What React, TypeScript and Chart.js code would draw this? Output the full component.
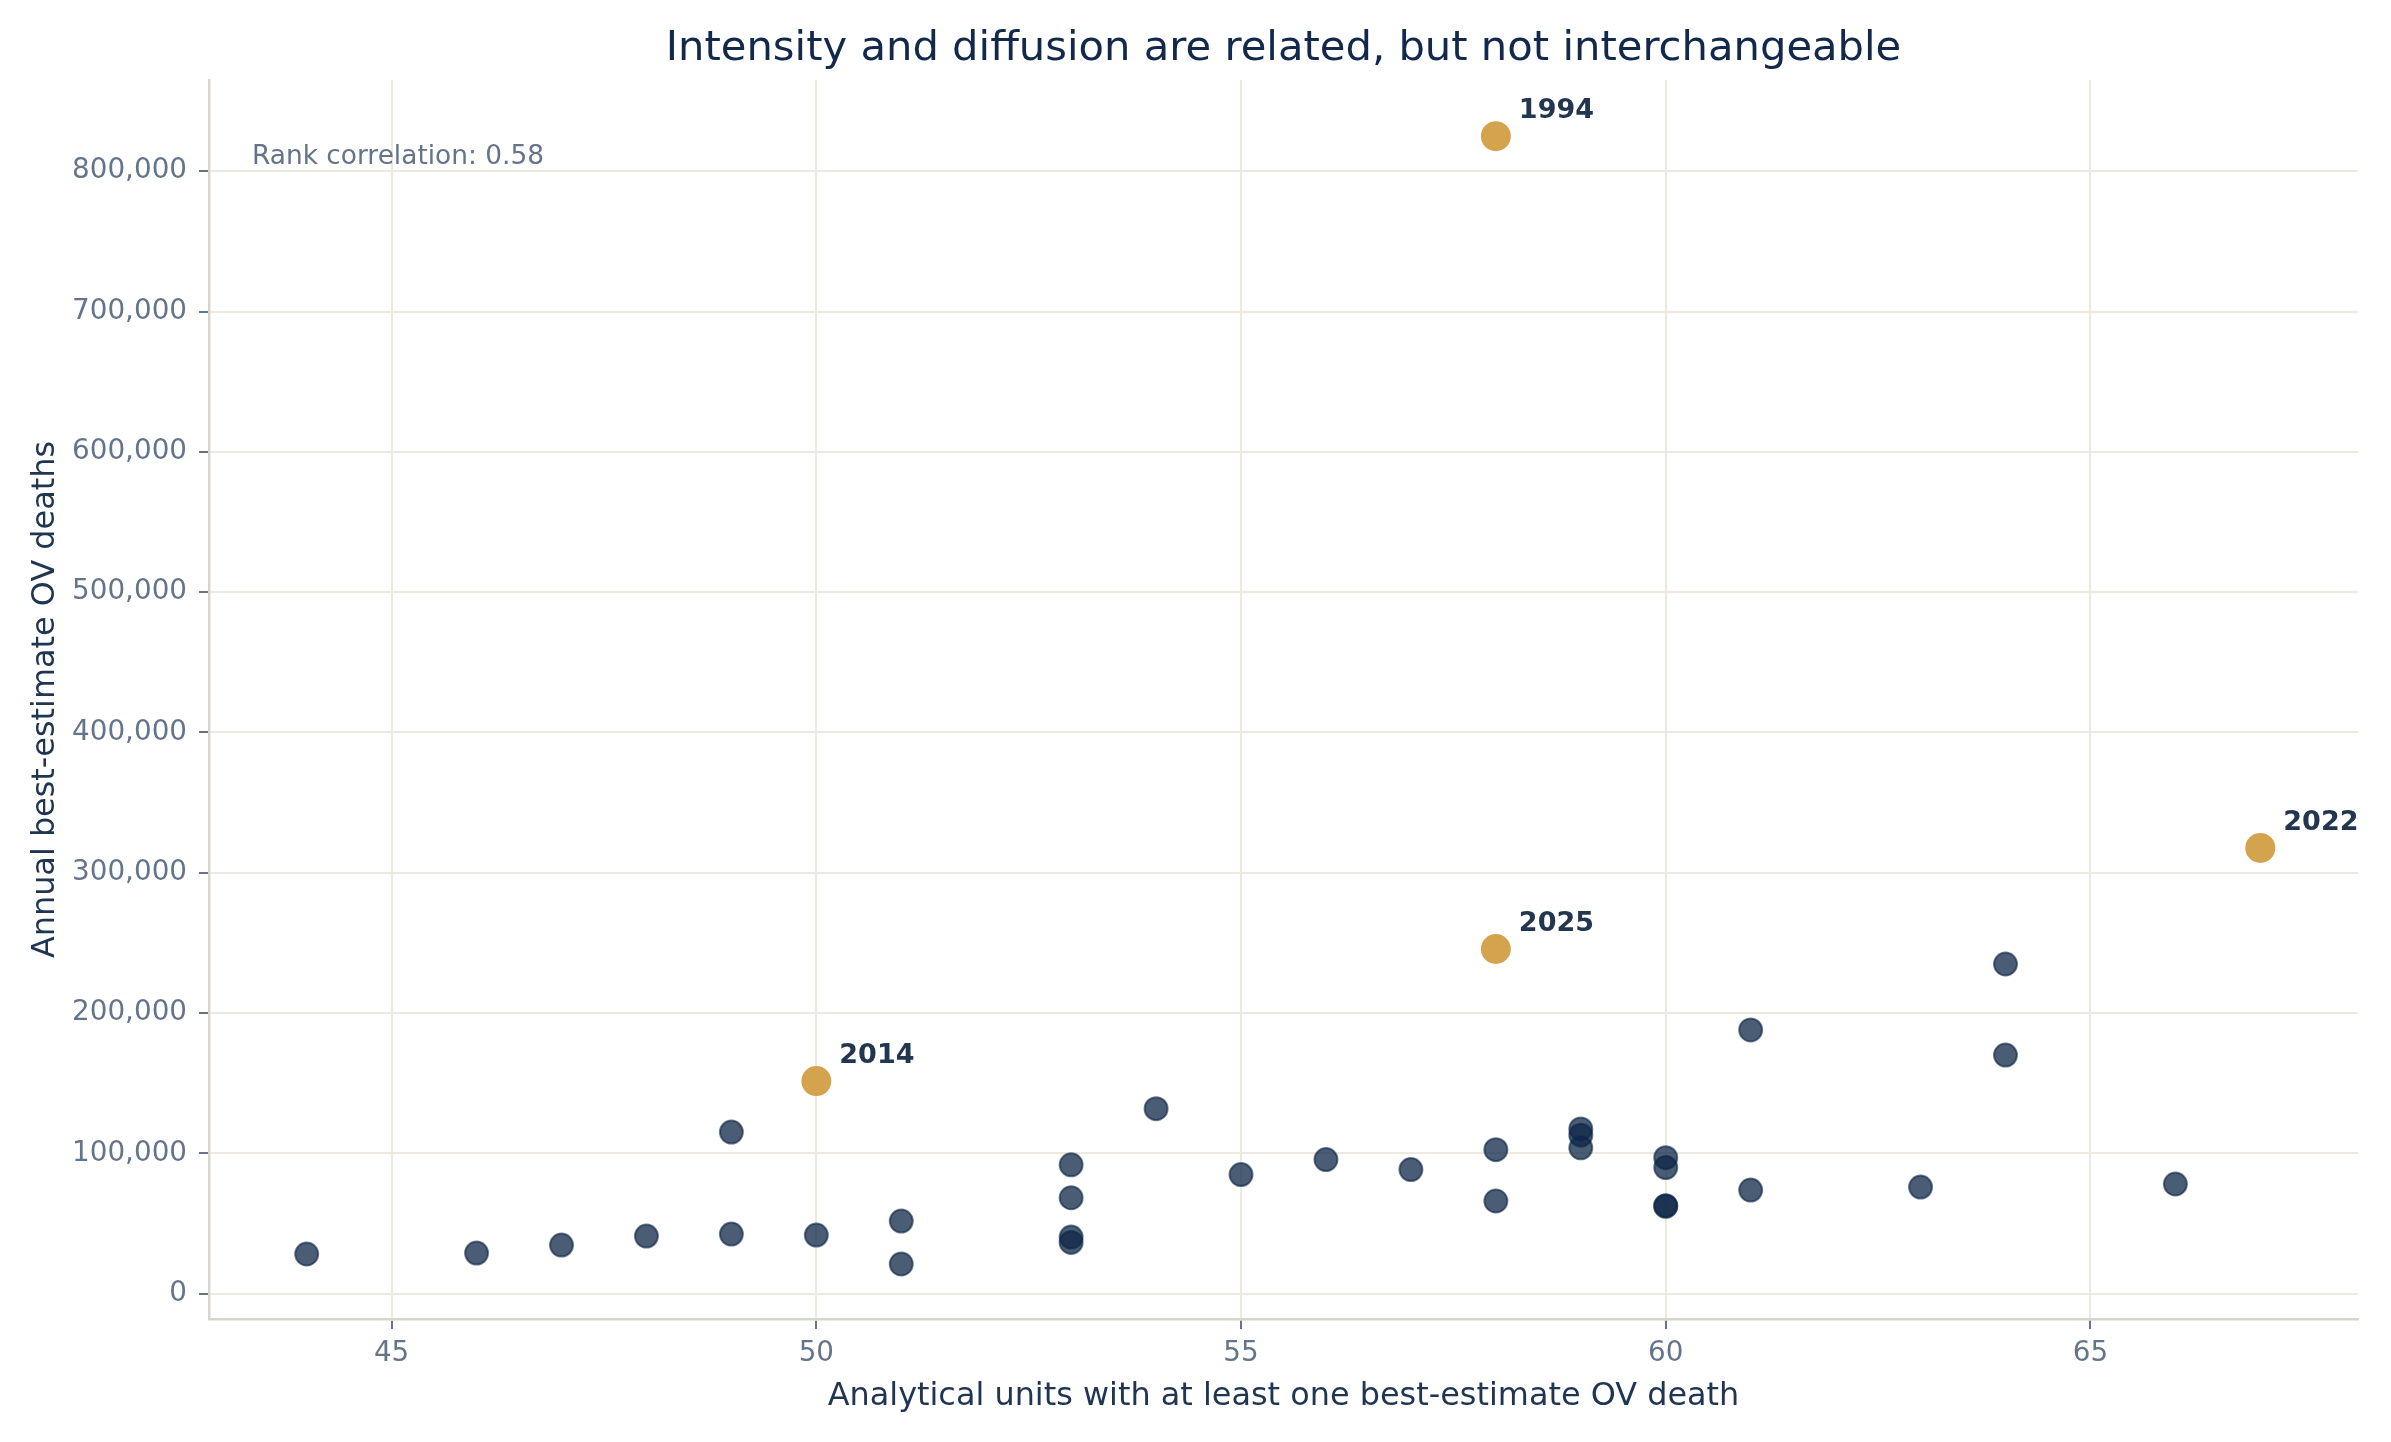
import React, { useEffect, useRef } from "react";
import { Chart, registerables } from "chart.js";

Chart.register(...registerables);

// regular years: units with at least one death vs annual deaths
const unitCounts = [44, 46, 47, 48, 49, 49, 50, 51, 51, 53, 53, 53, 53, 54, 55, 56, 57, 58, 58, 59, 59, 59, 60, 60, 60, 60, 61, 61, 63, 64, 64, 66];
const deathCounts = [28300, 29000, 34700, 41100, 42500, 115200, 41800, 51800, 21200, 91900, 68400, 40400, 36600, 131900, 84900, 95600, 88500, 102700, 66100, 117500, 113000, 104000, 97000, 89900, 62800, 62300, 188000, 73900, 76000, 235000, 170100, 78200];

// highlighted years
const highlightYears = ["1994", "2014", "2022", "2025"];
const highlightUnits = [58, 50, 67, 58];
const highlightDeaths = [825000, 151600, 317700, 245700];

const xTickValues = [45, 50, 55, 60, 65];
const yTickValues = [0, 100000, 200000, 300000, 400000, 500000, 600000, 700000, 800000];
const rankCorrelation = "Rank correlation: 0.58";

const FONT = "'DejaVu Sans', sans-serif";
const INK = "#13294b";
const LABEL = "#1f3552";
const MUTED = "#64748b";
const GRID = "#ede9df";
const SPINE = "#d9d5c9";
const NAVY = "rgba(14, 39, 71, 0.75)";
const NAVY_EDGE = "rgba(14, 39, 71, 0.6)";
const GOLD = "#d4a34e";

const annotate = {
  id: "annotate",
  afterDatasetsDraw(chart) {
    const { ctx, scales } = chart;
    ctx.save();
    ctx.font = `bold 27px ${FONT}`;
    ctx.fillStyle = "#22364f";
    ctx.textAlign = "left";
    ctx.textBaseline = "alphabetic";
    highlightYears.forEach((year, i) => {
      const px = scales.x.getPixelForValue(highlightUnits[i]);
      const py = scales.y.getPixelForValue(highlightDeaths[i]);
      ctx.fillText(year, px + 23, py - 18);
    });
    ctx.font = `26.4px ${FONT}`;
    ctx.fillStyle = MUTED;
    ctx.fillText(rankCorrelation, chart.chartArea.left + 43, 164);
    ctx.restore();
  },
};

const App = () => {
  const canvasRef = useRef<HTMLCanvasElement>(null);

  useEffect(() => {
    document.body.style.margin = "0";
    const ctx = canvasRef.current!.getContext("2d")!;

    const chart = new Chart(ctx, {
      type: "scatter",
      data: {
        datasets: [
          {
            label: "Highlighted years",
            data: highlightUnits.map((x, i) => ({ x, y: highlightDeaths[i] })),
            backgroundColor: GOLD,
            borderColor: GOLD,
            borderWidth: 0,
            pointRadius: 15,
            pointHoverRadius: 15,
            order: 0,
          },
          {
            label: "Other years",
            data: unitCounts.map((x, i) => ({ x, y: deathCounts[i] })),
            backgroundColor: NAVY,
            borderColor: NAVY_EDGE,
            borderWidth: 2,
            pointRadius: 11.5,
            pointHoverRadius: 11.5,
            order: 1,
          },
        ],
      },
      options: {
        responsive: false,
        animation: false,
        devicePixelRatio: 1,
        layout: { padding: { top: 0, right: 33, bottom: 0, left: 0 } },
        plugins: {
          legend: { display: false },
          tooltip: { enabled: false },
          title: {
            display: true,
            text: "Intensity and diffusion are related, but not interchangeable",
            fullSize: false,
            color: INK,
            font: { family: FONT, size: 41.7, weight: "normal", lineHeight: 1.2 },
            padding: { top: 24, bottom: 6 },
          },
        },
        scales: {
          x: {
            type: "linear",
            min: 42.85,
            max: 68.15,
            afterFit: (scale) => {
              scale.height = 123;
            },
            afterBuildTicks: (scale) => {
              scale.ticks = xTickValues.map((value) => ({ value }));
            },
            ticks: {
              color: MUTED,
              padding: 7.6,
              font: { family: FONT, size: 27.8 },
              callback: (v) => String(v),
            },
            grid: { color: GRID, lineWidth: 2, tickColor: MUTED, tickLength: 10, tickWidth: 2 },
            border: { color: SPINE, width: 2.5 },
            title: {
              display: true,
              text: "Analytical units with at least one best-estimate OV death",
              color: LABEL,
              font: { family: FONT, size: 31.9, lineHeight: 1.2 },
              padding: { top: 0, bottom: 26.5 },
            },
          },
          y: {
            type: "linear",
            min: -18000,
            max: 865000,
            afterFit: (scale) => {
              scale.width = 209;
            },
            afterBuildTicks: (scale) => {
              scale.ticks = yTickValues.map((value) => ({ value }));
            },
            ticks: {
              color: MUTED,
              padding: 12,
              font: { family: FONT, size: 27.8 },
              callback: (v) => Number(v).toLocaleString("en-US"),
            },
            grid: { color: GRID, lineWidth: 2, tickColor: MUTED, tickLength: 10, tickWidth: 2 },
            border: { color: SPINE, width: 2.5 },
            title: {
              display: true,
              text: "Annual best-estimate OV deaths",
              color: LABEL,
              font: { family: FONT, size: 31.9, lineHeight: 1.2 },
              padding: { top: 27, bottom: 0 },
            },
          },
        },
      },
      plugins: [annotate],
    });

    return () => {
      chart.destroy();
    };
  }, []);

  return (
    <div style={{ width: 2391, height: 1442, background: "#ffffff" }}>
      <canvas ref={canvasRef} width={2391} height={1442} style={{ display: "block" }} />
    </div>
  );
};

export default App;
